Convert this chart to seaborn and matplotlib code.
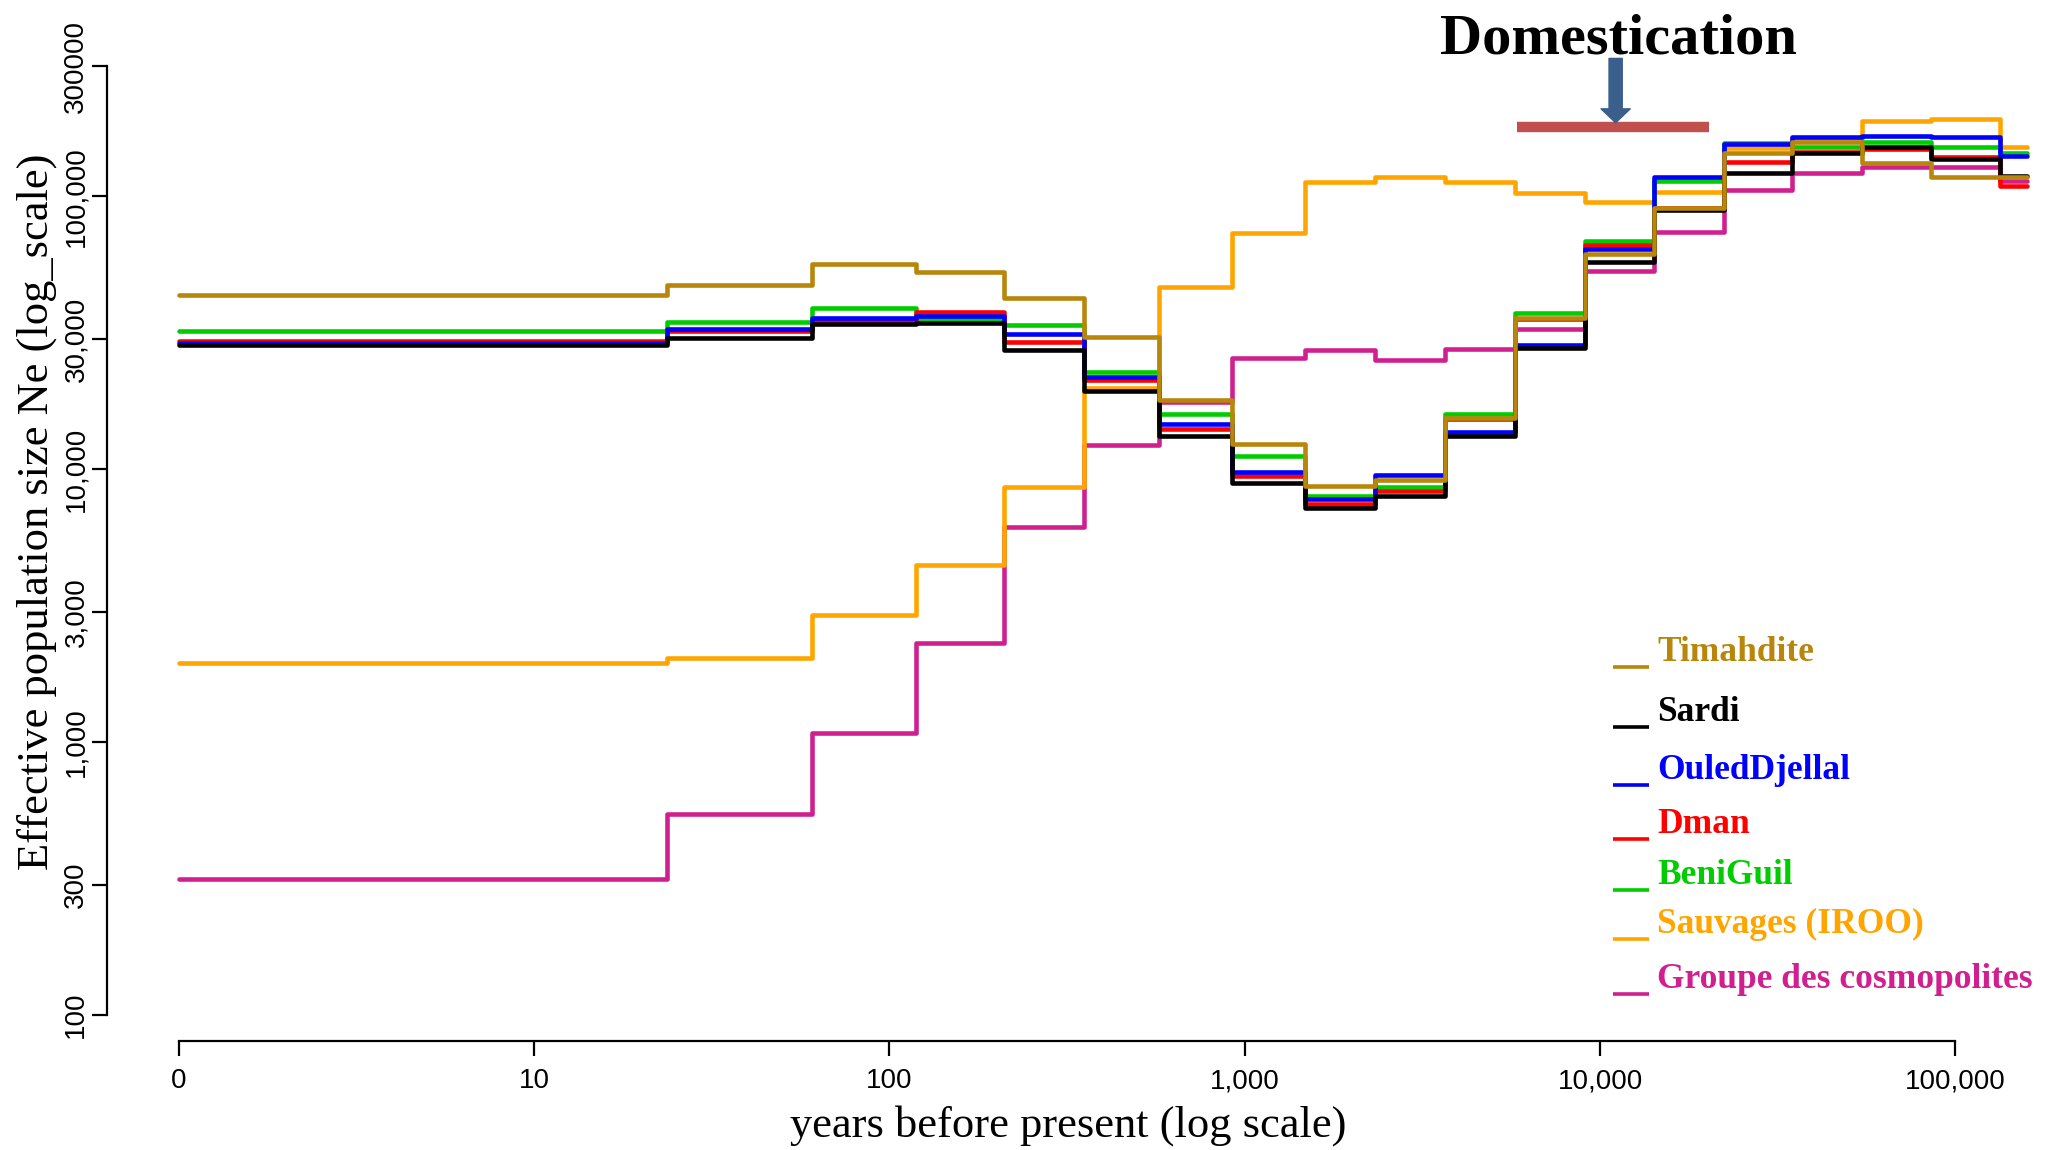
import numpy as np
import pandas as pd
import matplotlib
matplotlib.use("Agg")
import matplotlib.pyplot as plt
from matplotlib.lines import Line2D
import seaborn as sns

# ---------------- data ----------------
# epoch boundaries, years before present (19 epochs -> 20 edges)
edges = [1, 23.7, 60.5, 118.9, 210.3, 353, 575, 919, 1478, 2326, 3661,
         5763, 9070, 14180, 22250, 34780, 54570, 85320, 133450, 159400]

populations = ["Timahdite", "Sardi", "OuledDjellal", "Dman", "BeniGuil",
               "Sauvages (IROO)", "Groupe des cosmopolites"]
colors = ["#B8860B", "#000000", "#0000FF", "#FF0000", "#00CD00",
          "#FFA500", "#D02090"]

ne_timahdite = [43600, 47300, 56500, 52600, 42300, 30600, 17900, 12400, 8700, 9150,
                15400, 35700, 61500, 90600, 144000, 158600, 132200, 117400, 118000]
ne_sardi = [28400, 30300, 34000, 34400, 27400, 19400, 13240, 8870, 7190, 8000,
            13270, 27700, 57400, 89100, 122100, 144500, 151000, 137000, 118500]
ne_ouleddjellal = [29100, 32600, 35700, 36500, 31300, 21800, 14700, 9790, 7760, 9530,
                   13700, 28500, 64000, 117400, 155500, 165500, 166400, 164600, 140600]
ne_dman = [29400, 32200, 35000, 37600, 29300, 21200, 14000, 9450, 7450, 8340,
           15300, 35500, 66300, 90500, 134000, 145000, 149000, 139600, 109200]
ne_beniguil = [32200, 34700, 38900, 35500, 33750, 22800, 15900, 11180, 7980, 8630,
               15900, 37300, 68600, 114000, 157000, 151000, 157800, 151000, 143900]
ne_sauvages = [1950, 2030, 2920, 4450, 8630, 19800, 46600, 73600, 113000, 117900,
               112800, 103000, 95500, 103300, 150000, 163000, 188400, 192000, 151000]
ne_cosmopolites = [315, 545, 1080, 2310, 6150, 12270, 17600, 25500, 27300, 25200,
                   27500, 32600, 53200, 74000, 105400, 122100, 128500, 127700, 113300]

series = [ne_timahdite, ne_sardi, ne_ouleddjellal, ne_dman, ne_beniguil,
          ne_sauvages, ne_cosmopolites]

x_ticks = [1, 10, 100, 1000, 10000, 100000]
x_tick_labels = ["0", "10", "100", "1,000", "10,000", "100,000"]
y_ticks = [100, 300, 1000, 3000, 10000, 30000, 100000, 300000]
y_tick_labels = ["100", "300", "1,000", "3,000", "10,000", "30,000", "100,000", "300000"]

domestication_label = "Domestication"
domestication_range = (5840, 20250)      # years (red bar)
domestication_bar_ne = 179500
domestication_arrow_x = 11060
domestication_arrow_top = 320000
domestication_arrow_tip = 186000

x_label = "years before present (log scale)"
y_label = "Effective population size Ne (log_scale)"

# ---------------- build long table ----------------
rows = []
for name, vals in zip(populations, series):
    ys = list(vals) + [vals[-1]]
    for x, y in zip(edges, ys):
        rows.append({"population": name, "years": x, "Ne": y})
df = pd.DataFrame(rows)

# ---------------- figure ----------------
sns.set_style("ticks")
plt.rcParams["font.family"] = ["Liberation Sans", "DejaVu Sans"]
plt.rcParams["text.color"] = "black"
plt.rcParams["axes.labelcolor"] = "black"
plt.rcParams["xtick.color"] = "black"
plt.rcParams["ytick.color"] = "black"

W, H = 2058, 1150
fig = plt.figure(figsize=(W / 100, H / 100), dpi=100)

ax_left, ax_right, ax_top, ax_bottom = 107, 2040, 20, 1041
ax = fig.add_axes([ax_left / W, 1 - ax_bottom / H,
                   (ax_right - ax_left) / W, (ax_bottom - ax_top) / H])
ax.set_xscale("log")
ax.set_yscale("log")

draw_order = populations[::-1]
sns.lineplot(data=df, x="years", y="Ne", hue="population", hue_order=draw_order,
             palette=dict(zip(populations, colors)), drawstyle="steps-post",
             estimator=None, sort=False, linewidth=3.3, legend=False, ax=ax)

ax.set_xlim(10 ** -0.2012, 10 ** 5.2378)
ax.set_ylim(10 ** 1.9047, 10 ** 5.646)

ax.xaxis.set_major_locator(matplotlib.ticker.FixedLocator(x_ticks))
ax.xaxis.set_minor_locator(matplotlib.ticker.NullLocator())
ax.yaxis.set_major_locator(matplotlib.ticker.FixedLocator(y_ticks))
ax.yaxis.set_minor_locator(matplotlib.ticker.NullLocator())
ax.set_xticklabels(x_tick_labels, fontsize=20, family="Liberation Sans", color="black")
ax.set_yticklabels(y_tick_labels, fontsize=20, family="Liberation Sans",
                   rotation=90, va="center", color="black")
ax.tick_params(axis="x", length=11, width=1.6, pad=8.5, colors="black")
ax.tick_params(axis="y", length=11, width=1.6, pad=2, colors="black")

for s in ["top", "right"]:
    ax.spines[s].set_visible(False)
ax.spines["left"].set_bounds(y_ticks[0], y_ticks[-1])
ax.spines["bottom"].set_bounds(x_ticks[0], x_ticks[-1])
for s in ["left", "bottom"]:
    ax.spines[s].set_linewidth(1.6)
    ax.spines[s].set_color("black")
ax.set_xlabel("")
ax.set_ylabel("")

# axis titles
fig.text(1068 / W, 1 - 1137 / H, x_label, family="Liberation Serif",
         fontsize=32, ha="center", va="baseline", color="black")
fig.text(37 / W, 1 - 512 / H, y_label, family="Liberation Serif",
         fontsize=32, ha="center", va="center", rotation=90, color="black")

# domestication annotation
ax.hlines(domestication_bar_ne, domestication_range[0], domestication_range[1],
          color="#C0504D", linewidth=7.5, capstyle="butt", zorder=5)
ax.annotate("", xy=(domestication_arrow_x, domestication_arrow_tip),
            xytext=(domestication_arrow_x, domestication_arrow_top),
            arrowprops=dict(width=9.5, headwidth=21, headlength=10,
                            color="#3B5F8C", shrink=0), zorder=6,
            annotation_clip=False)
fig.text(1618 / W, 1 - 53.5 / H, domestication_label, family="Liberation Serif",
         fontweight="bold", fontsize=42, ha="center", va="baseline", color="black")

# legend (text coloured like the lines, short line at baseline)
legend_baselines = [661, 721, 779, 833, 884, 933, 988]
for name, col, yb in zip(populations, colors, legend_baselines):
    fig.add_artist(Line2D([1613 / W, 1649 / W], [1 - (yb + 5.5) / H] * 2,
                          color=col, linewidth=2.6, transform=fig.transFigure,
                          solid_capstyle="butt"))
    fig.text(1657 / W, 1 - yb / H, name, color=col, family="Liberation Serif",
             fontweight="bold", fontsize=25.5, ha="left", va="baseline")

fig.savefig("out.png", dpi=100, facecolor="white")
